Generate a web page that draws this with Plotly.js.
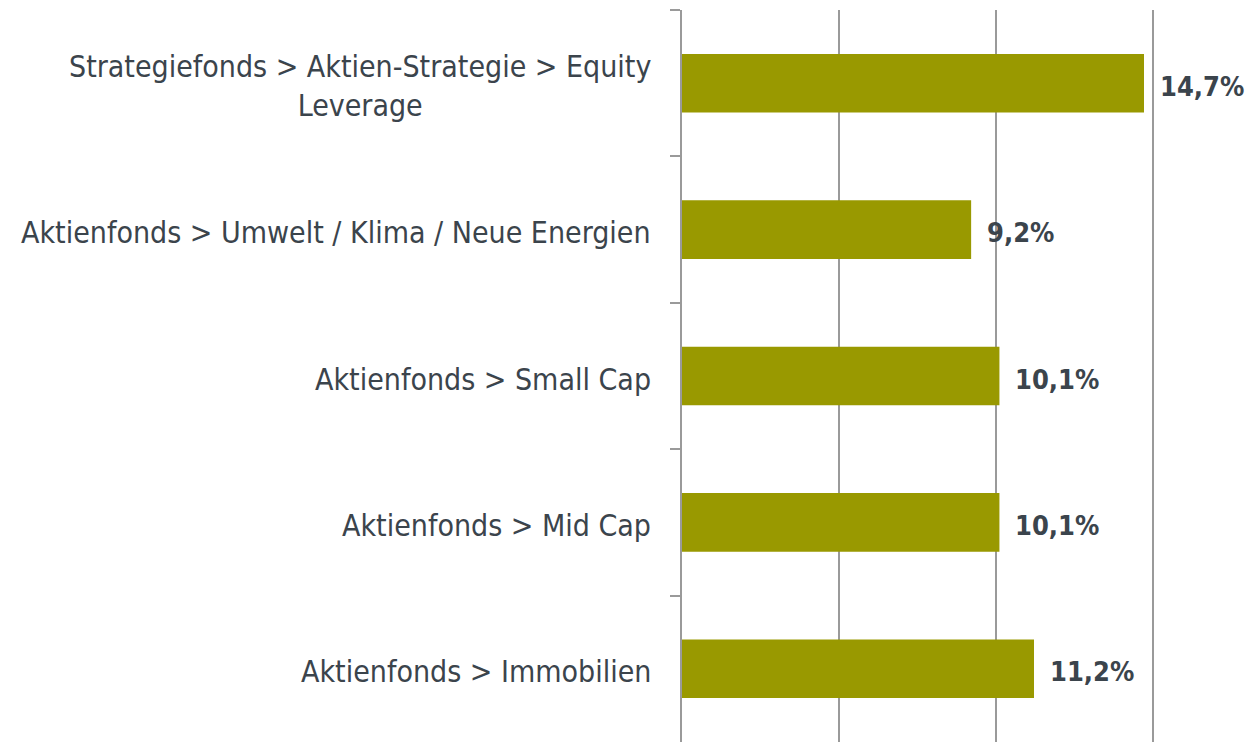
<!DOCTYPE html>
<html>
<head>
<meta charset="utf-8">
<script src="https://cdn.plot.ly/plotly-3.0.1.min.js"></script>
<style>html,body{margin:0;padding:0;background:#fff;overflow:hidden}#chart{width:1246px;height:742px}</style>
</head>
<body>
<div id="chart"></div>
<script>
const categories = [
  "Strategiefonds > Aktien-Strategie > Equity<br>Leverage",
  "Aktienfonds > Umwelt / Klima / Neue Energien",
  "Aktienfonds > Small Cap",
  "Aktienfonds > Mid Cap",
  "Aktienfonds > Immobilien"
];
const values = [14.7, 9.2, 10.1, 10.1, 11.2];
const valueLabels = ["14,7%", "9,2%", "10,1%", "10,1%", "11,2%"];

const FONT = "'DejaVu Sans Condensed', 'Liberation Sans Narrow', sans-serif";
const TXT = "#3b444c";
const GRID = "#9a9a9a";

const trace = {
  type: "bar",
  orientation: "h",
  y: categories,
  x: values,
  marker: {color: "#999900"},
  hoverinfo: "skip"
};

const annotations = [];
categories.forEach((c, i) => {
  annotations.push({
    xref: "paper", yref: "y", x: 0, y: c, text: c,
    xanchor: "right", yanchor: "middle", xshift: -29, yshift: -3, align: "center",
    showarrow: false, font: {family: FONT, size: 30, color: TXT}
  });
  annotations.push({
    xref: "x", yref: "y", x: values[i], y: c, text: "<b>" + valueLabels[i] + "</b>",
    xanchor: "left", yanchor: "middle", xshift: 14, yshift: -3,
    showarrow: false, font: {family: FONT, size: 27, color: TXT}
  });
});

const layout = {
  width: 1246, height: 742,
  margin: {l: 682, r: 91, t: 10, b: 0},
  paper_bgcolor: "#fff", plot_bgcolor: "#fff",
  showlegend: false,
  bargap: 0.6,
  xaxis: {
    range: [0, 15.05], dtick: 5, tick0: 0,
    showgrid: true, gridcolor: GRID, gridwidth: 2,
    showticklabels: false, zeroline: false, showline: false, ticks: ""
  },
  yaxis: {
    type: "category", autorange: "reversed",
    showticklabels: false, showgrid: false, zeroline: false,
    showline: true, linecolor: GRID, linewidth: 2,
    ticks: "outside", tickson: "boundaries", ticklen: 10, tickcolor: GRID, tickwidth: 2
  },
  annotations: annotations
};

Plotly.newPlot("chart", [trace], layout, {displayModeBar: false, staticPlot: true});
</script>
</body>
</html>
